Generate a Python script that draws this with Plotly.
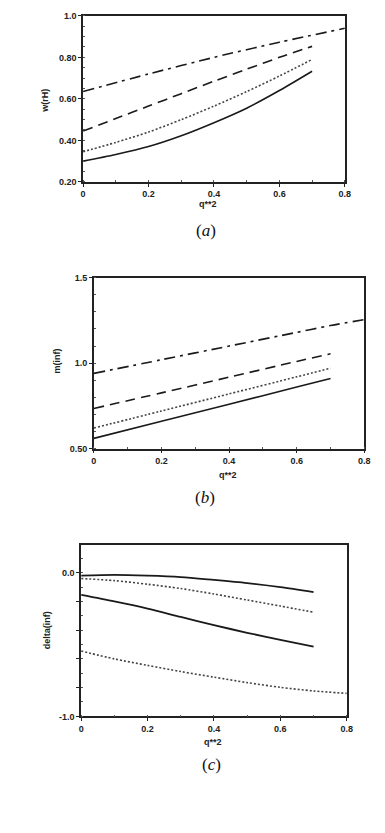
import plotly.graph_objects as go

W, H = 385, 833

# ---- data ----
# panel (a): w(rH) vs q**2
xa = [0, 0.1, 0.2, 0.3, 0.4, 0.5, 0.6, 0.7]
xa_dd = [0, 0.2, 0.4, 0.6, 0.8]
a_solid = [0.30, 0.332, 0.37, 0.422, 0.485, 0.555, 0.64, 0.733]
a_dot = [0.345, 0.39, 0.44, 0.50, 0.565, 0.635, 0.71, 0.79]
a_dash = [0.445, 0.505, 0.565, 0.625, 0.685, 0.743, 0.80, 0.853]
a_dashdot = [0.635, 0.72, 0.80, 0.873, 0.94]

# panel (b): m(inf) vs q**2
xb = [0, 0.2, 0.4, 0.6, 0.7]
xb_dd = [0, 0.2, 0.4, 0.6, 0.7, 0.8]
b_solid = [0.56, 0.66, 0.76, 0.86, 0.91]
b_dot = [0.62, 0.72, 0.82, 0.92, 0.97]
b_dash = [0.735, 0.826, 0.918, 1.01, 1.055]
b_dashdot = [0.94, 1.02, 1.10, 1.18, 1.22, 1.255]

# panel (c): delta(inf) vs q**2
xc = [0, 0.1, 0.2, 0.3, 0.4, 0.5, 0.6, 0.7]
xc_long = [0, 0.1, 0.2, 0.3, 0.4, 0.5, 0.6, 0.7, 0.8]
c_solid1 = [-0.02, -0.015, -0.02, -0.03, -0.05, -0.072, -0.10, -0.135]
c_dot1 = [-0.04, -0.055, -0.08, -0.11, -0.148, -0.19, -0.232, -0.275]
c_solid2 = [-0.155, -0.20, -0.25, -0.308, -0.365, -0.418, -0.468, -0.515]
c_dot2 = [-0.545, -0.60, -0.645, -0.688, -0.727, -0.765, -0.798, -0.823, -0.84]

xticks = [0, 0.2, 0.4, 0.6, 0.8]
xticktext = ["0", "0.2", "0.4", "0.6", "0.8"]
a_yticks = [0.2, 0.4, 0.6, 0.8, 1.0]
a_yticktext = ["0.20", "0.40", "0.60", "0.80", "1.0"]
b_yticks = [0.5, 1.0, 1.5]
b_yticktext = ["0.50", "1.0", "1.5"]
c_yticks = [-1.0, -0.8, -0.6, -0.4, -0.2, 0.0]
c_yticktext = ["-1.0", "", "", "", "", "0.0"]

LC = "#1a1a1a"

def px_x(p):
    return p / W

def px_y(p):
    return 1 - p / H

fig = go.Figure()

def add(x, y, dash, xa_name, ya_name, width=1.6, color=LC):
    fig.add_trace(go.Scatter(x=x, y=y, mode="lines", xaxis=xa_name, yaxis=ya_name,
                             line=dict(color=color, dash=dash, width=width,
                                       shape="spline", smoothing=0.8),
                             showlegend=False, hoverinfo="skip"))

DOT = "2px,2px"
DASH = "10px,6px"
DASHDOT = "11px,5px,3px,5px"

add(xa, a_solid, "solid", "x", "y")
add(xa, a_dot, DOT, "x", "y", color="#444")
add(xa, a_dash, DASH, "x", "y")
add(xa_dd, a_dashdot, DASHDOT, "x", "y")

add(xb, b_solid, "solid", "x2", "y2")
add(xb, b_dot, DOT, "x2", "y2", color="#444")
add(xb, b_dash, DASH, "x2", "y2")
add(xb_dd, b_dashdot, DASHDOT, "x2", "y2")

add(xc, c_solid1, "solid", "x3", "y3", width=1.8)
add(xc, c_dot1, DOT, "x3", "y3", color="#444")
add(xc, c_solid2, "solid", "x3", "y3", width=1.8)
add(xc_long, c_dot2, DOT, "x3", "y3", color="#444")

tickfont = dict(family="Liberation Sans, Arial", size=9, color="#222", weight="bold")

def xax(l, r, anchor):
    return dict(domain=[px_x(l), px_x(r)], range=[0, 0.8], anchor=anchor,
                tickvals=xticks, ticktext=xticktext, ticks="outside", ticklen=3,
                tickwidth=1, tickcolor="#222", tickfont=tickfont,
                showline=True, linecolor="#222", linewidth=1.6, mirror=True,
                showgrid=False, zeroline=False,
                minor=dict(ticks="inside", ticklen=2, dtick=0.1, tickcolor="#555"))

def yax(t, b, rng, tv, tt, anchor, minor_dtick):
    return dict(domain=[px_y(b), px_y(t)], range=rng, anchor=anchor,
                tickvals=tv, ticktext=tt, ticks="outside", ticklen=3,
                tickwidth=1, tickcolor="#222", tickfont=tickfont,
                showline=True, linecolor="#222", linewidth=1.6, mirror=True,
                showgrid=False, zeroline=False,
                minor=dict(ticks="inside", ticklen=2, dtick=minor_dtick, tickcolor="#555"))

fig.update_layout(
    width=W, height=H, margin=dict(l=0, r=0, t=0, b=0),
    paper_bgcolor="white", plot_bgcolor="white",
    xaxis=xax(82, 350, "y"),
    yaxis=yax(11, 179, [0.2, 1.0], a_yticks, a_yticktext, "x", 0.05),
    xaxis2=xax(93, 370, "y2"),
    yaxis2=yax(276, 449, [0.5, 1.5], b_yticks, b_yticktext, "x2", 0.1),
    xaxis3=xax(80, 352, "y3"),
    yaxis3=yax(547, 720, [-1.0, 0.19], c_yticks, c_yticktext, "x3", 0.1),
)

lab = dict(family="Liberation Sans, Arial", size=9, color="#222")
cap = dict(family="Liberation Serif, DejaVu Serif", size=17, color="#111")

annos = [
    ("w(rH)", 43, 97, -90, lab),
    ("m(inf)", 55, 360, -90, lab),
    ("delta(inf)", 45, 633, -90, lab),
    ("<b>q**2</b>", 210, 201, 0, lab),
    ("<b>q**2</b>", 230, 476, 0, lab),
    ("<b>q**2</b>", 215, 746, 0, lab),
    ("(<i>a</i>)", 208, 228, 0, cap),
    ("(<i>b</i>)", 207, 498, 0, cap),
    ("(<i>c</i>)", 213, 769, 0, cap),
]
for text, x, y, ang, f in annos:
    fig.add_annotation(text=text if ang == 0 else "<b>" + text + "</b>",
                       x=px_x(x), y=px_y(y), xref="paper", yref="paper",
                       showarrow=False, textangle=ang, font=f,
                       xanchor="center", yanchor="middle")

fig.write_html("out.html")
